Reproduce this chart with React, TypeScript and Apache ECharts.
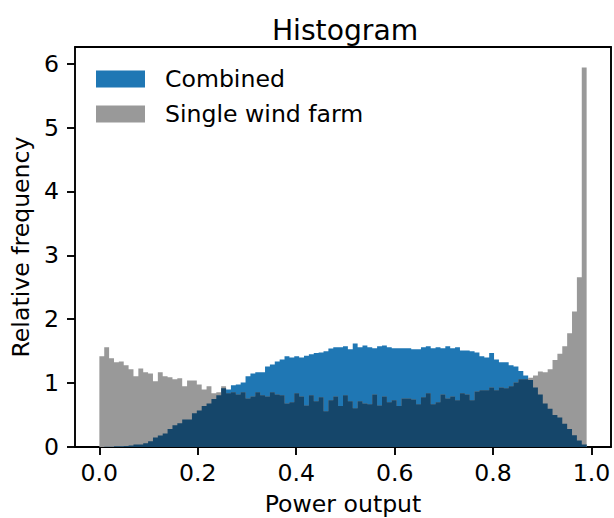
import React, { useEffect, useRef } from "react";
import * as echarts from "echarts";

// Histogram bins: 100 equal bins from 0 to 0.99
const BIN_START = 0;
const BIN_WIDTH = 0.0099;

// Relative frequency per bin — "Single wind farm"
const SINGLE = [
  1.42, 1.56, 1.39, 1.325, 1.34, 1.28, 1.215, 1.106, 1.23, 1.17,
  1.15, 1.03, 1.17, 1.106, 1.09, 1.06, 1.075, 0.95, 1.04, 1.04,
  0.98, 0.9, 0.95, 0.84, 0.855, 0.95, 0.84, 0.855, 0.82, 0.855,
  0.76, 0.79, 0.855, 0.81, 0.79, 0.855, 0.82, 0.81, 0.68, 0.7,
  0.84, 0.79, 0.65, 0.81, 0.715, 0.78, 0.56, 0.73, 0.79, 0.64,
  0.81, 0.715, 0.605, 0.715, 0.68, 0.67, 0.82, 0.65, 0.79, 0.7,
  0.73, 0.64, 0.76, 0.76, 0.745, 0.67, 0.78, 0.84, 0.67, 0.7,
  0.82, 0.76, 0.79, 0.73, 0.84, 0.82, 0.73, 0.87, 0.89, 0.89,
  0.93, 0.89, 0.93, 0.92, 0.95, 1.01, 1.06, 1.06, 1.085, 1.12,
  1.18, 1.17, 1.215, 1.36, 1.46, 1.575, 1.78, 2.12, 2.655, 5.94,
];

// Relative frequency per bin — "Combined"
const COMBINED = [
  0.0, 0.005, 0.005, 0.01, 0.01, 0.015, 0.025, 0.04, 0.04, 0.06,
  0.09, 0.15, 0.18, 0.21, 0.28, 0.34, 0.37, 0.43, 0.43, 0.53,
  0.57, 0.64, 0.68, 0.75, 0.81, 0.92, 0.9, 0.965, 0.98, 1.01,
  1.106, 1.15, 1.17, 1.17, 1.26, 1.29, 1.34, 1.37, 1.42, 1.4,
  1.42, 1.4, 1.43, 1.45, 1.47, 1.48, 1.5, 1.54, 1.56, 1.56,
  1.575, 1.53, 1.62, 1.56, 1.59, 1.56, 1.545, 1.575, 1.59, 1.56,
  1.545, 1.545, 1.545, 1.545, 1.53, 1.53, 1.56, 1.575, 1.545, 1.56,
  1.545, 1.575, 1.545, 1.56, 1.51, 1.51, 1.5, 1.48, 1.42, 1.4,
  1.47, 1.37, 1.325, 1.325, 1.28, 1.26, 1.19, 1.12, 1.05, 0.93,
  0.82, 0.68, 0.6, 0.5, 0.46, 0.365, 0.28, 0.185, 0.1, 0.04,
];

const X_TICKS = [0.0, 0.2, 0.4, 0.6, 0.8, 1.0];
const Y_TICKS = [0, 1, 2, 3, 4, 5, 6];

const BLUE = "#1f77b4";
const GRAY = "#999999";
const OVERLAP = "#15466a";
const FONT = "DejaVu Sans";

function binRows(values: number[]) {
  return values.map((v, i) => [
    BIN_START + i * BIN_WIDTH,
    BIN_START + (i + 1) * BIN_WIDTH,
    v,
  ]);
}

// Draws the whole histogram of one series as a single step polygon (no seams)
function makeRender(values: number[], color: string) {
  return (params: any, api: any) => {
    if (params.dataIndex !== 0) return null;
    const pts: number[][] = [];
    pts.push(api.coord([BIN_START, 0]));
    values.forEach((v, i) => {
      pts.push(api.coord([BIN_START + i * BIN_WIDTH, v]));
      pts.push(api.coord([BIN_START + (i + 1) * BIN_WIDTH, v]));
    });
    pts.push(api.coord([BIN_START + values.length * BIN_WIDTH, 0]));
    return {
      type: "polygon",
      shape: { points: pts },
      style: { fill: color },
    };
  };
}

const axisLineStyle = { color: "#000", width: 1.9 };

export default function App() {
  const ref = useRef<HTMLDivElement>(null);

  useEffect(() => {
    if (!ref.current) return;
    const chart = echarts.init(ref.current, null, { renderer: "svg" });
    const overlapVals = SINGLE.map((v, i) => Math.min(v, COMBINED[i]));

    chart.setOption({
      animation: false,
      backgroundColor: "#ffffff",
      textStyle: { fontFamily: FONT },
      title: {
        text: "Histogram",
        left: 340,
        top: 11,
        textAlign: "center",
        textStyle: { fontFamily: FONT, fontSize: 28.2, fontWeight: "normal", color: "#000" },
      },
      legend: {
        orient: "vertical",
        left: 96,
        top: 67,
        itemWidth: 49,
        itemHeight: 17,
        itemGap: 11,
        icon: "rect",
        padding: 0,
        data: ["Combined", "Single wind farm"],
        textStyle: {
          fontFamily: FONT,
          fontSize: 23.6,
          lineHeight: 24,
          color: "#000",
          padding: [0, 0, 0, 15],
        },
      },
      grid: {
        left: 75,
        right: 3,
        top: 47,
        bottom: 71,
        containLabel: false,
        outerBoundsMode: "none",
      },
      xAxis: [
        {
          type: "value",
          min: -0.0495,
          max: 1.0395,
          name: "Power output",
          nameLocation: "middle",
          nameGap: 45,
          nameTextStyle: { fontFamily: FONT, fontSize: 23.6, color: "#000" },
          axisLine: { show: true, onZero: false, lineStyle: axisLineStyle },
          axisTick: {
            show: true,
            length: 8,
            customValues: X_TICKS,
            lineStyle: axisLineStyle,
          },
          axisLabel: {
            customValues: X_TICKS,
            margin: 14,
            fontFamily: FONT,
            fontSize: 23.6,
            color: "#000",
            formatter: (v: number) => v.toFixed(1),
          },
          splitLine: { show: false },
        },
        {
          type: "value",
          position: "top",
          min: -0.0495,
          max: 1.0395,
          axisLine: { show: true, onZero: false, lineStyle: axisLineStyle },
          axisTick: { show: false },
          axisLabel: { show: false },
          splitLine: { show: false },
        },
      ],
      yAxis: [
        {
          type: "value",
          min: 0,
          max: 6.26,
          name: "Relative frequency",
          nameLocation: "middle",
          nameGap: 42,
          nameRotate: 90,
          nameTextStyle: { fontFamily: FONT, fontSize: 23.6, color: "#000" },
          axisLine: { show: true, onZero: false, lineStyle: axisLineStyle },
          axisTick: {
            show: true,
            length: 8,
            customValues: Y_TICKS,
            lineStyle: axisLineStyle,
          },
          axisLabel: {
            customValues: Y_TICKS,
            margin: 16,
            fontFamily: FONT,
            fontSize: 23.6,
            color: "#000",
            formatter: (v: number) => String(v),
          },
          splitLine: { show: false },
        },
        {
          type: "value",
          position: "right",
          min: 0,
          max: 6.26,
          axisLine: { show: true, onZero: false, lineStyle: axisLineStyle },
          axisTick: { show: false },
          axisLabel: { show: false },
          splitLine: { show: false },
        },
      ],
      series: [
        {
          name: "Combined",
          type: "custom",
          renderItem: makeRender(COMBINED, BLUE),
          itemStyle: { color: BLUE },
          encode: { x: [0, 1], y: 2 },
          data: binRows(COMBINED),
          z: 2,
        },
        {
          name: "Single wind farm",
          type: "custom",
          renderItem: makeRender(SINGLE, GRAY),
          itemStyle: { color: GRAY },
          encode: { x: [0, 1], y: 2 },
          data: binRows(SINGLE),
          z: 2,
        },
        {
          name: "overlap",
          type: "custom",
          renderItem: makeRender(overlapVals, OVERLAP),
          itemStyle: { color: OVERLAP },
          encode: { x: [0, 1], y: 2 },
          data: binRows(overlapVals),
          z: 3,
        },
      ],
    });

    return () => chart.dispose();
  }, []);

  return (
    <div
      ref={ref}
      style={{ position: "fixed", left: 0, top: 0, width: 614, height: 518 }}
    />
  );
}
